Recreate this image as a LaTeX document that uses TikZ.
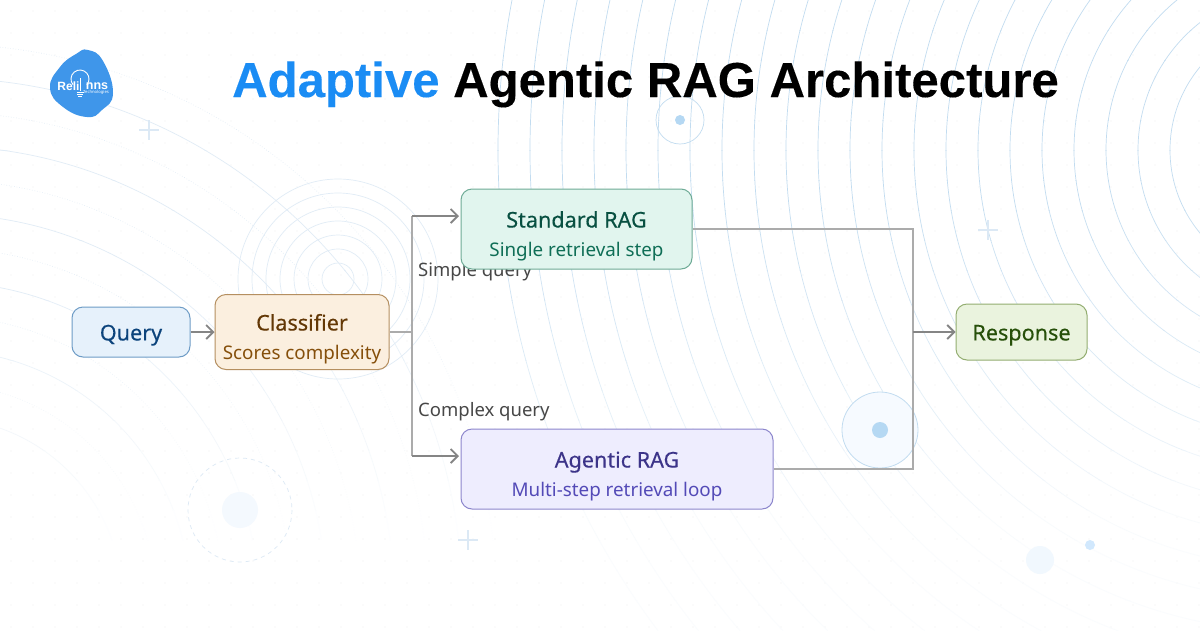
\documentclass[tikz,border=0pt]{standalone}
\usepackage{fontspec}
\usetikzlibrary{arrows.meta}
\setmainfont{Noto Sans}
\newfontfamily\titlefont[FakeBold=0.2]{Liberation Sans}
\newfontfamily\logofont{Liberation Sans}
\newfontfamily\headfont[FakeBold=0.25]{Noto Sans}
\definecolor{titleblue}{HTML}{1A8CF4}
\definecolor{logoblue}{HTML}{3F96EA}
\definecolor{arcblue}{HTML}{C2DCF0}
\definecolor{softblue}{HTML}{DCE9F5}
\definecolor{dotblue}{HTML}{B5D8F3}
\definecolor{queryfill}{HTML}{E6F1FB}
\definecolor{queryline}{HTML}{6E9CC6}
\definecolor{querytext}{HTML}{0C447C}
\definecolor{classfill}{HTML}{FBEFDF}
\definecolor{classline}{HTML}{B58F60}
\definecolor{classtext}{HTML}{633806}
\definecolor{classsub}{HTML}{854F0B}
\definecolor{stdfill}{HTML}{E1F5EE}
\definecolor{stdline}{HTML}{6EAB96}
\definecolor{stdtext}{HTML}{085041}
\definecolor{stdsub}{HTML}{0F6E56}
\definecolor{agentfill}{HTML}{EEEDFE}
\definecolor{agentline}{HTML}{8C86CC}
\definecolor{agenttext}{HTML}{3C3489}
\definecolor{agentsub}{HTML}{534AB7}
\definecolor{respfill}{HTML}{EAF3DE}
\definecolor{respline}{HTML}{93AD70}
\definecolor{resptext}{HTML}{27500A}
\newcommand{\boxtext}[4]{\rule[-9pt]{0pt}{40pt}{\color{#1}\headfont\fontsize{21.6}{24}\selectfont #3}\\\rule[-5pt]{0pt}{24pt}{\color{#2}\fontsize{18.8}{20}\selectfont #4}}
\newcommand{\boxhead}[2]{\rule{0pt}{22pt}{\color{#1}\headfont\fontsize{21.6}{24}\selectfont #2}}
\begin{document}
\begin{tikzpicture}[
        x=1pt, y=-1pt,
        box/.style n args={4}{draw=#2, fill=#1, line width=1pt, rounded corners=11pt,
            inner sep=0pt, align=center, minimum width=#3, minimum height=#4},
        wire/.style={draw=black!33, line width=1.8pt},
        flow/.style={draw=black!48, line width=2.4pt, -{Straight Barb[length=7pt,width=14pt,line width=1.8pt]}},
        edgelabel/.style={anchor=west, inner sep=0pt, text=black!72, font=\fontsize{18.5}{22}\selectfont},
        plus/.style={draw=softblue, line width=1.6pt}
    ]
    \useasboundingbox (0,0) rectangle (1200,630);
    \fill[white] (0,0) rectangle (1200,630);
    \clip (0,0) rectangle (1200,630);

    % dot grid
    \foreach \i in {0,...,54}
        \foreach \j in {0,...,28}
            \fill[black!3] (11+22*\i,11+22*\j) circle[radius=0.8];

    % big rings, fading downwards
    \foreach \k in {0,...,20} {
        \pgfmathsetmacro{\pct}{\k<7 ? 100 : max(8,100-8*(\k-6))}
        \begin{scope}
            \clip (0,30*\k) rectangle (1200,30*\k+30.5);
            \foreach \r in {130,162,...,802}
                \draw[draw=arcblue!\pct!white, line width=0.7pt] (1300,150) circle[radius=\r];
        \end{scope}
    }

    % rings on the left
    \foreach \k in {0,...,20} {
        \pgfmathsetmacro{\pct}{\k<10 ? 85 : max(0,85-10*(\k-9))}
        \begin{scope}
            \clip (0,30*\k) rectangle (1200,30*\k+30.5);
            \foreach \r in {182,250,...,522}
                \draw[draw=softblue!\pct!white, line width=0.7pt] (-60,600) circle[radius=\r];
            \foreach \r in {216,284,...,590}
                \draw[draw=softblue!\pct!white, line width=0.6pt, dotted] (-60,600) circle[radius=\r];
        \end{scope}
    }

    % rings behind the classifier
    \foreach \r in {16,30,...,100}
        \draw[draw=softblue!85!white, line width=0.7pt] (338,279) circle[radius=\r];

    % small marks
    \draw[plus] (139,130) -- (159,130) (149,120) -- (149,140);
    \draw[plus] (978,230) -- (998,230) (988,220) -- (988,240);
    \draw[plus] (458,540) -- (478,540) (468,530) -- (468,550);
    \draw[draw=arcblue, line width=0.7pt] (680,120) circle[radius=24];
    \fill[dotblue] (680,120) circle[radius=5];
    \fill[titleblue!5] (240,510) circle[radius=18];
    \draw[draw=softblue, line width=0.7pt, dash pattern=on 4pt off 4pt] (240,510) circle[radius=52];
    \fill[titleblue!6] (1040,560) circle[radius=14];
    \fill[titleblue!20] (1090,545) circle[radius=5];
    \draw[draw=arcblue, fill=titleblue!4, line width=0.8pt] (880,430) circle[radius=38];
    \fill[dotblue] (880,430) circle[radius=8];

    % logo
    \fill[logoblue] plot[smooth cycle, tension=0.8] coordinates {(88,50) (103,61) (113,93) (102,110)
        (87,117) (63,107) (50,88) (60,67) (76,54)};
    \draw[white, line width=0.9pt] (73.1,84.8) arc[start angle=140, end angle=400, radius=9];
    \draw[white, line width=0.7pt] (76.5,92.5) -- (83.5,92.5) (77,94.5) -- (83,94.5) (78,96.5) -- (82,96.5) (80,78) -- (80,91);
    \node[inner sep=0pt, text=white] (logoleft) at (68.5,86) {\logofont\bfseries\fontsize{12}{12}\selectfont Reli};
    \node[inner sep=0pt, text=white] (logoright) at (97,86) {\logofont\bfseries\fontsize{12.5}{12}\selectfont nns};
    \node[inner sep=0pt, text=white] (logosub) at (96,92.5) {\fontsize{4.2}{4}\selectfont Technologies};

    % title
    \node[anchor=base west, inner sep=0pt] (heading) at (232,97)
        {\titlefont\bfseries\fontsize{49.1}{56}\selectfont\textcolor{titleblue}{Adaptive} Agentic RAG Architecture};

    % labels go under the boxes
    \node[edgelabel] (simplelabel) at (418,272) {Simple query};
    \node[edgelabel] (complexlabel) at (418,412) {Complex query};

    \node[box={queryfill}{queryline}{118pt}{50pt}] (query) at (131,332)
        {\boxhead{querytext}{Query}};
    \node[box={classfill}{classline}{174pt}{75pt}] (classifier) at (302,332)
        {\boxtext{classtext}{classsub}{Classifier}{Scores complexity}};
    \node[box={stdfill}{stdline}{231pt}{80pt}] (standard) at (576.5,229)
        {\boxtext{stdtext}{stdsub}{Standard RAG}{Single retrieval step}};
    \node[box={agentfill}{agentline}{312pt}{80pt}] (agentic) at (617,469)
        {\boxtext{agenttext}{agentsub}{Agentic RAG}{Multi-step retrieval loop}};
    \node[box={respfill}{respline}{131pt}{56pt}] (response) at (1021.5,332)
        {\boxhead{resptext}{Response}};

    \coordinate (branch) at (412,332);
    \coordinate (merge) at (913,332);
    \coordinate (standardin) at (459,216);
    \coordinate (agenticin) at (459,456);

    \draw[wire] (classifier.east) -- (branch);
    \draw[wire] (branch |- standardin) -- (branch |- agenticin);
    \draw[flow] (query) -- (classifier);
    \draw[flow] (branch |- standardin) -- (standardin);
    \draw[flow] (branch |- agenticin) -- (agenticin);
    \draw[wire] (standard.east) -| (merge);
    \draw[wire] (agentic.east) -| (merge);
    \draw[flow] (merge) -- (response.west);
\end{tikzpicture}
\end{document}
